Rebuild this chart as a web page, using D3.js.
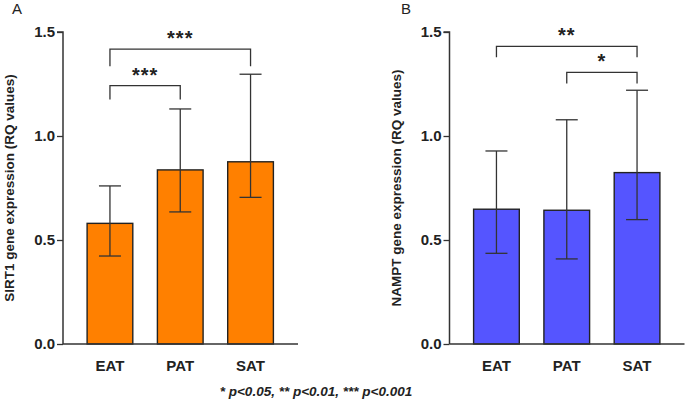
<!DOCTYPE html>
<html><head><meta charset="utf-8">
<script src="https://cdn.jsdelivr.net/npm/d3@7"></script>
<style>
body{margin:0;background:#fff;}
svg{display:block;font-family:"Liberation Sans",Arial,sans-serif;}
</style></head>
<body>
<svg id="c" width="685" height="400"></svg>
<script>
const categories = ["EAT","PAT","SAT"];
const sirt1Mean  = [0.58, 0.837, 0.876];
const sirt1Lower = [0.423, 0.635, 0.705];
const sirt1Upper = [0.76, 1.13, 1.297];
const namptMean  = [0.648, 0.643, 0.824];
const namptLower = [0.436, 0.409, 0.598];
const namptUpper = [0.928, 1.078, 1.22];
const yTicks = [0, 0.5, 1.0, 1.5];
// brackets: [from, to, level, tickDrop, label]
const sirt1Brackets = [["EAT","SAT",1.418,0.083,"***"],["EAT","PAT",1.242,0.066,"***"]];
const namptBrackets = [["EAT","SAT",1.431,0.052,"**"],["PAT","SAT",1.306,0.053,"*"]];
const footnote = "* p<0.05, ** p<0.01, *** p<0.001";

const svg = d3.select("#c");
const y = d3.scaleLinear().domain([0,1.5]).range([344,32]);

function panel(opt){
  const g = svg.append("g");
  const x = d3.scaleBand().domain(categories).range(opt.xr).padding(0.35);
  const ax0 = opt.xr[0]+0.5;
  g.selectAll("rect.bar").data(categories).enter().append("rect")
    .attr("x",d=>x(d)).attr("width",x.bandwidth())
    .attr("y",(d,i)=>y(opt.mean[i])).attr("height",(d,i)=>y(0)-y(opt.mean[i]))
    .attr("fill",opt.color).attr("stroke","#222").attr("stroke-width",1.4);
  const cx = d=>x(d)+x.bandwidth()/2;
  g.selectAll("line.err").data(categories).enter().append("line")
    .attr("x1",cx).attr("x2",cx)
    .attr("y1",(d,i)=>y(opt.lo[i])).attr("y2",(d,i)=>y(opt.hi[i]))
    .attr("stroke","#333").attr("stroke-width",1.3);
  ["hi","lo"].forEach(k=>{
    g.selectAll("line.cap"+k).data(categories).enter().append("line")
      .attr("x1",d=>cx(d)-11).attr("x2",d=>cx(d)+11)
      .attr("y1",(d,i)=>y(opt[k][i])).attr("y2",(d,i)=>y(opt[k][i]))
      .attr("stroke","#333").attr("stroke-width",1.3);
  });
  const ya = g.append("g").attr("transform",`translate(${ax0},0)`)
    .call(d3.axisLeft(y).tickValues(yTicks).tickFormat(d3.format(".1f")).tickSize(6).tickPadding(2));
  ya.select(".domain").attr("stroke","#333").attr("stroke-width",1.5).attr("d",`M-6,${y(1.5)}H0V${y(0)}`);
  ya.selectAll(".tick line").attr("stroke","#333").attr("stroke-width",1.3);
  ya.selectAll(".tick text").attr("font-size",15).attr("font-weight","bold").attr("fill","#222")
    .attr("font-family","Liberation Sans, Arial, sans-serif");
  const xa = g.append("g").attr("transform",`translate(0,${y(0)})`)
    .call(d3.axisBottom(x).tickSize(0).tickPadding(16));
  xa.select(".domain").attr("stroke","#333").attr("stroke-width",1.5).attr("d",`M${ax0},0H${opt.xr[1]}`);
  xa.selectAll(".tick text").attr("font-size",15).attr("font-weight","bold").attr("fill","#222")
    .attr("font-family","Liberation Sans, Arial, sans-serif");
  g.append("text").attr("transform",`translate(${opt.titleX},${(y(0)+y(1.5))/2}) rotate(-90)`)
    .attr("text-anchor","middle").attr("font-size",13.5).attr("font-weight","bold").attr("fill","#222")
    .text(opt.title);
  g.append("text").attr("x",opt.labelX).attr("y",14).attr("font-size",15).attr("fill","#222").text(opt.label);
  opt.brackets.forEach(b=>{
    const x1=cx(b[0]), x2=cx(b[1]), yl=y(b[2]), yd=y(b[2]-b[3]);
    g.append("path").attr("d",`M${x1},${yd}V${yl}H${x2}V${yd}`)
      .attr("fill","none").attr("stroke","#333").attr("stroke-width",1.3);
    g.append("text").attr("x",(x1+x2)/2).attr("y",yl-4).attr("text-anchor","middle")
      .attr("font-size",20).attr("font-weight","bold").attr("letter-spacing","1px").attr("fill","#222").text(b[4]);
  });
}

panel({xr:[62.5,298],mean:sirt1Mean,lo:sirt1Lower,hi:sirt1Upper,color:"#FF8000",
  title:"SIRT1 gene expression (RQ values)",titleX:14,label:"A",labelX:12,brackets:sirt1Brackets});
panel({xr:[449,684.5],mean:namptMean,lo:namptLower,hi:namptUpper,color:"#5555FF",
  title:"NAMPT gene expression (RQ values)",titleX:401,label:"B",labelX:401,brackets:namptBrackets});

svg.append("text").attr("x",316).attr("y",396).attr("text-anchor","middle")
  .attr("font-size",13.5).attr("font-weight","bold").attr("font-style","italic").attr("fill","#222").text(footnote);
</script>
</body></html>
